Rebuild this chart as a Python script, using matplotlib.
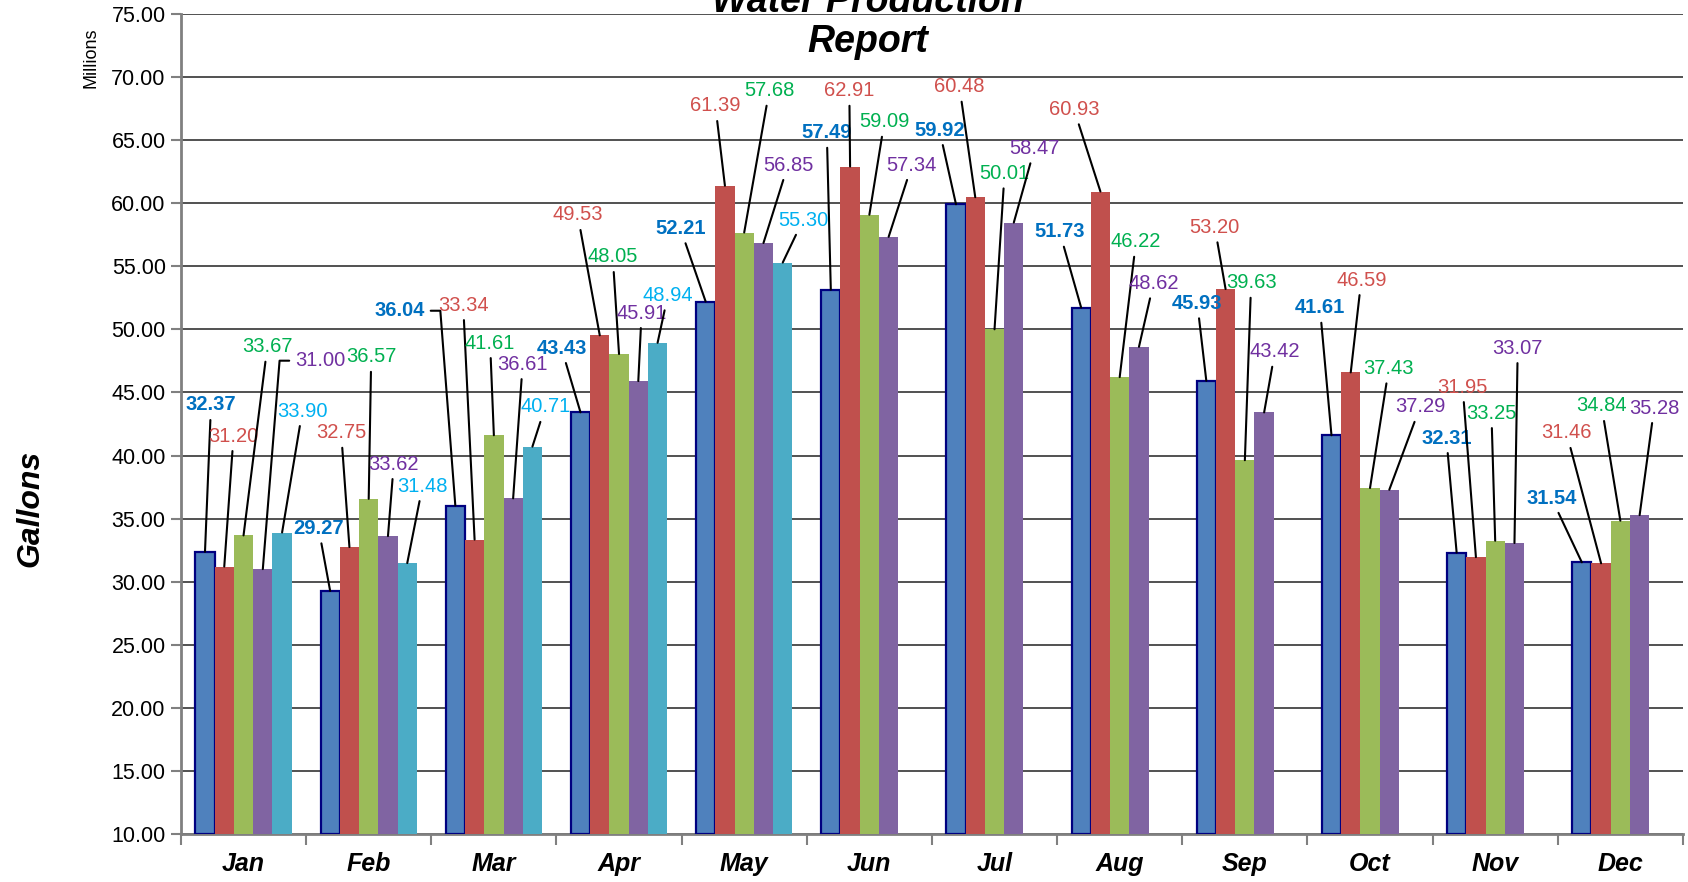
import matplotlib
matplotlib.use("Agg")
import matplotlib.pyplot as plt
import numpy as np

plt.rcParams["font.family"] = ["Liberation Sans", "DejaVu Sans"]

months = ["Jan", "Feb", "Mar", "Apr", "May", "Jun",
          "Jul", "Aug", "Sep", "Oct", "Nov", "Dec"]

# bar heights (millions of gallons); None = no bar
s1 = [32.37, 29.27, 36.04, 43.43, 52.21, 53.15, 59.92, 51.73, 45.93, 41.61, 32.31, 31.54]
s2 = [31.20, 32.75, 33.34, 49.53, 61.39, 62.91, 60.48, 60.93, 53.20, 46.59, 31.95, 31.46]
s3 = [33.67, 36.57, 41.61, 48.05, 57.68, 59.09, 50.01, 46.22, 39.63, 37.43, 33.25, 34.84]
s4 = [31.00, 33.62, 36.61, 45.91, 56.85, 57.34, 58.47, 48.62, 43.42, 37.29, 33.07, 35.28]
s5 = [33.90, 31.48, 40.71, 48.94, 55.30, None, None, None, None, None, None, None]

# label text shown in the source (the Jun blue label differs from its bar)
s1_text = ["32.37", "29.27", "36.04", "43.43", "52.21", "57.49",
           "59.92", "51.73", "45.93", "41.61", "32.31", "31.54"]

# where each data label was dragged to (x in month units, y in value units)
lab_x = [
    [-0.26, 0.60, 1.25, 2.54, 3.49, 4.66, 5.56, 6.52, 7.62, 8.60, 9.61, 10.45],
    [-0.08, 0.78, 1.755, 2.67, 3.77, 4.84, 5.72, 6.635, 7.76, 8.93, 9.74, 10.57],
    [0.19, 1.02, 1.97, 2.95, 4.20, 5.12, 6.08, 7.13, 8.05, 9.15, 9.97, 10.85],
    [0.61, 1.20, 2.23, 3.18, 4.35, 5.34, 6.32, 7.27, 8.24, 9.40, 10.18, 11.27],
    [0.47, 1.43, 2.41, 3.39, 4.47],
]
lab_y = [
    [44.01, 34.23, 51.48, 48.52, 58.01, 65.59, 65.80, 57.74, 52.07, 51.72, 41.39, 36.63],
    [41.55, 41.81, 51.93, 59.07, 67.71, 68.92, 69.24, 67.44, 58.09, 53.91, 45.43, 41.79],
    [48.63, 47.83, 48.92, 55.74, 68.92, 66.46, 62.37, 56.95, 53.70, 46.91, 43.37, 43.93],
    [47.52, 39.33, 47.25, 51.30, 63.03, 63.03, 64.35, 53.65, 48.23, 43.85, 48.52, 43.77],
    [43.53, 37.58, 43.85, 52.70, 58.67],
]

# leaders that leave the label with a short horizontal stub: (series, month) -> angle
elbows = {(3, 0): 85.4, (0, 2): 94.4}

series = [s1, s2, s3, s4, s5]
bar_colors = ["#4F81BD", "#C0504D", "#9BBB59", "#8064A2", "#4BACC6"]
text_colors = ["#0070C0", "#D0504D", "#00B050", "#7030A0", "#00B0F0"]

fig = plt.figure(figsize=(16.88, 8.82), dpi=100)
ax = fig.add_axes([0.1072, 0.0544, 0.8898, 0.9297])

x = np.arange(len(months))
w = 0.154

for i, vals in enumerate(series):
    xs = x + (i - 2) * w
    for j, v in enumerate(vals):
        if v is None:
            continue
        if i == 0:
            ax.bar(xs[j], v - 10, w, bottom=10, color=bar_colors[i],
                   edgecolor="#000080", linewidth=1.6, zorder=3)
        else:
            ax.bar(xs[j], v - 10, w, bottom=10, color=bar_colors[i],
                   linewidth=0, zorder=3)
        txt = s1_text[j] if i == 0 else f"{v:.2f}"
        conn = "arc3"
        if (i, j) in elbows:
            conn = f"angle,angleA=0,angleB={elbows[(i, j)]},rad=0"
        ax.annotate(txt, xy=(xs[j], v), xytext=(lab_x[i][j], lab_y[i][j]),
                    ha="center", va="center", fontsize=14.5,
                    color=text_colors[i],
                    fontweight="bold" if i == 0 else "normal",
                    arrowprops=dict(arrowstyle="-", color="black", lw=1.5,
                                    shrinkA=2, shrinkB=0,
                                    connectionstyle=conn),
                    zorder=5)

ax.set_xlim(-0.5, 11.5)
ax.set_ylim(10, 75)
ax.set_yticks(np.arange(10, 76, 5))
ax.set_yticklabels([f"{t:.2f}" for t in np.arange(10, 76, 5)], fontsize=15.5)
ax.yaxis.grid(True, color="#333333", lw=1.2, zorder=0)
ax.set_axisbelow(True)

ax.set_xticks(np.arange(-0.5, 12, 1))
ax.set_xticklabels([])
ax.set_xticks(x, minor=True)
ax.set_xticklabels(months, minor=True, fontsize=18, fontweight="bold",
                   fontstyle="italic")
ax.tick_params(axis="x", which="minor", length=0, pad=13)
ax.tick_params(axis="x", which="major", length=8, width=1.5, color="#808080")
ax.tick_params(axis="y", length=7, width=1.5, color="#808080", pad=4)

for side in ["top", "right"]:
    ax.spines[side].set_visible(False)
for side in ["left", "bottom"]:
    ax.spines[side].set_color("#808080")
    ax.spines[side].set_linewidth(2)

fig.text(0.514, 0.975, "Water Production\nReport", ha="center", va="center",
         fontsize=27, fontweight="bold", fontstyle="italic", linespacing=1.15)
fig.text(0.054, 0.935, "Millions", rotation=90, ha="center", va="center",
         fontsize=13)
fig.text(0.018, 0.424, "Gallons", rotation=90, ha="center", va="center",
         fontsize=23, fontweight="bold", fontstyle="italic")

fig.savefig("out.png", dpi=100)
